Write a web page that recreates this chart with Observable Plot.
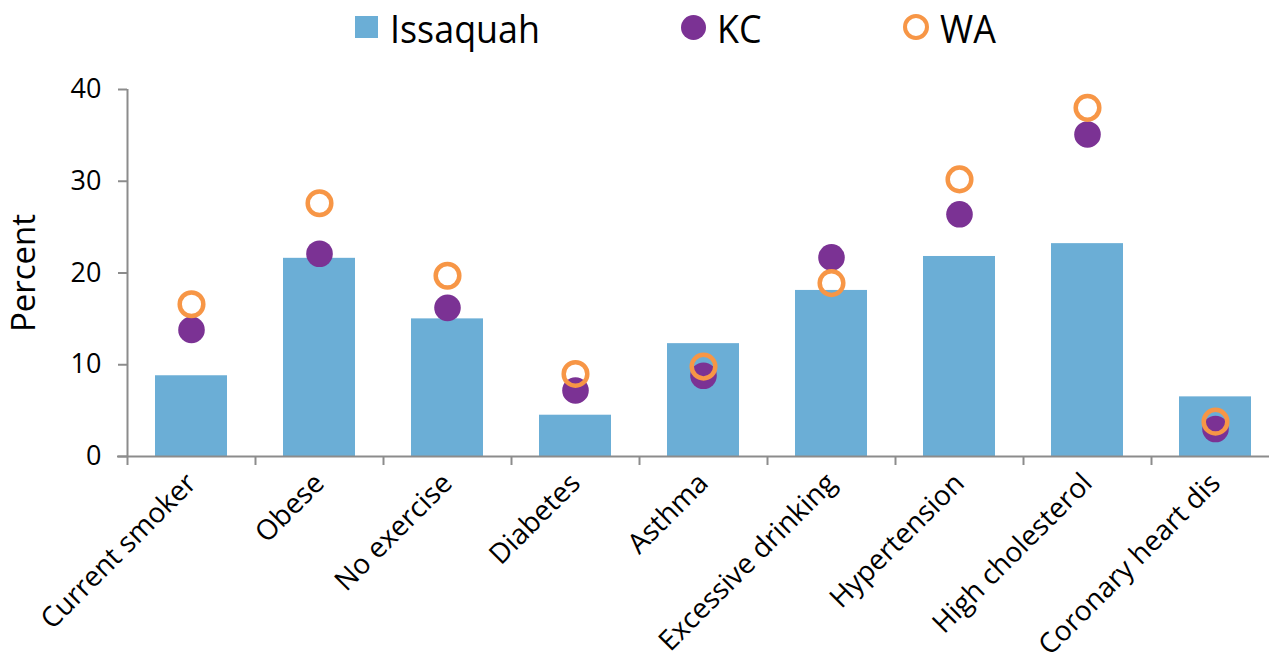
<!DOCTYPE html>
<html>
<head>
<meta charset="utf-8">
<script src="https://cdn.jsdelivr.net/npm/d3@7"></script>
<script src="https://cdn.jsdelivr.net/npm/@observablehq/plot@0.6"></script>
<style>
  html, body { margin: 0; padding: 0; background: #fff; overflow: hidden; }
  #wrap { position: relative; width: 1269px; height: 662px; }
  #legend { position: absolute; left: 0; top: 0; width: 1269px; height: 60px; font-family: "Liberation Sans Narrow", "Open Sans", sans-serif; font-size: 39px; color: #000; }
  .item { position: absolute; top: 4px; display: flex; align-items: center; height: 46px; }
  .sw { display: inline-block; box-sizing: border-box; }
  .txt { display: inline-block; transform: scaleX(0.92); transform-origin: left center; }
</style>
</head>
<body>
<div id="wrap">
  <div id="legend"></div>
  <div id="chart"></div>
</div>
<script>
const categories = ["Current smoker", "Obese", "No exercise", "Diabetes", "Asthma", "Excessive drinking", "Hypertension", "High cholesterol", "Coronary heart dis"];
const issaquah = [8.8, 21.6, 15.0, 4.5, 12.3, 18.1, 21.8, 23.2, 6.5];
const kc = [13.8, 22.1, 16.2, 7.2, 8.8, 21.7, 26.4, 35.1, 3.0];
const wa = [16.6, 27.6, 19.7, 9.0, 9.8, 18.9, 30.2, 38.0, 3.8];
const yTicks = [0, 10, 20, 30, 40];
const seriesNames = ["Issaquah", "KC", "WA"];

const colors = { bar: "#6baed6", kc: "#7b3294", wa: "#f79646", axis: "#8c8c8c" };

const rows = categories.map((c, i) => ({ cat: c, issaquah: issaquah[i], kc: kc[i], wa: wa[i] }));

const W = 1269, H = 662;
const mLeft = 127, mTop = 89, mBottom = 206, mRight = -10;
const step = (W - mRight - mLeft) / categories.length;

const chart = Plot.plot({
  width: W,
  height: H,
  marginLeft: mLeft,
  marginRight: mRight,
  marginTop: mTop,
  marginBottom: mBottom,
  style: { fontFamily: "'Open Sans', sans-serif", background: "transparent", overflow: "visible" },
  x: { domain: categories, paddingInner: 0.44, paddingOuter: 0.22 },
  y: { domain: [0, 40] },
  marks: [
    Plot.barY(rows, { x: "cat", y: "issaquah", fill: colors.bar }),
    Plot.ruleY([0], { stroke: colors.axis, strokeWidth: 2, insetLeft: -10, insetRight: 0 }),
    Plot.ruleX([categories[0]], { x: d => d, dx: -step / 2, y1: 0, y2: 40, stroke: colors.axis, strokeWidth: 2 }),
    Plot.ruleX(categories, { x: d => d, dx: -step / 2, y1: 0, y2: 0, insetBottom: -9, stroke: colors.axis, strokeWidth: 2 }),
    Plot.axisY({ ticks: yTicks, tickSize: 9, tickPadding: 17, stroke: colors.axis, strokeWidth: 2, fill: "#000", fontSize: 27, label: null }),
    Plot.axisX({ tickSize: 0, tickPadding: 22, tickRotate: -45, fill: "#000", fontSize: 28, label: null }),
    Plot.text(["Percent"], { frameAnchor: "left", textAnchor: "middle", dx: -103, rotate: -90, fontSize: 33, fill: "#000" }),
    Plot.dot(rows, { x: "cat", y: "kc", r: 13.3, fill: colors.kc, stroke: null }),
    Plot.dot(rows, { x: "cat", y: "wa", r: 11.8, fill: "none", stroke: colors.wa, strokeWidth: 4.5 })
  ]
});
document.getElementById("chart").appendChild(chart);

const legend = document.getElementById("legend");
const items = [
  { name: seriesNames[0], left: 355, sw: `<span class="sw" style="width:23px;height:22px;background:${colors.bar};margin-right:12px"></span>` },
  { name: seriesNames[1], left: 681, sw: `<span class="sw" style="width:25px;height:25px;border-radius:50%;background:${colors.kc};margin-right:11px"></span>` },
  { name: seriesNames[2], left: 903, sw: `<span class="sw" style="width:26px;height:26px;border-radius:50%;border:4.5px solid ${colors.wa};margin-right:11px"></span>` }
];
for (const it of items) {
  const d = document.createElement("div");
  d.className = "item";
  d.style.left = it.left + "px";
  d.innerHTML = it.sw + `<span class="txt">${it.name}</span>`;
  legend.appendChild(d);
}
</script>
</body>
</html>
